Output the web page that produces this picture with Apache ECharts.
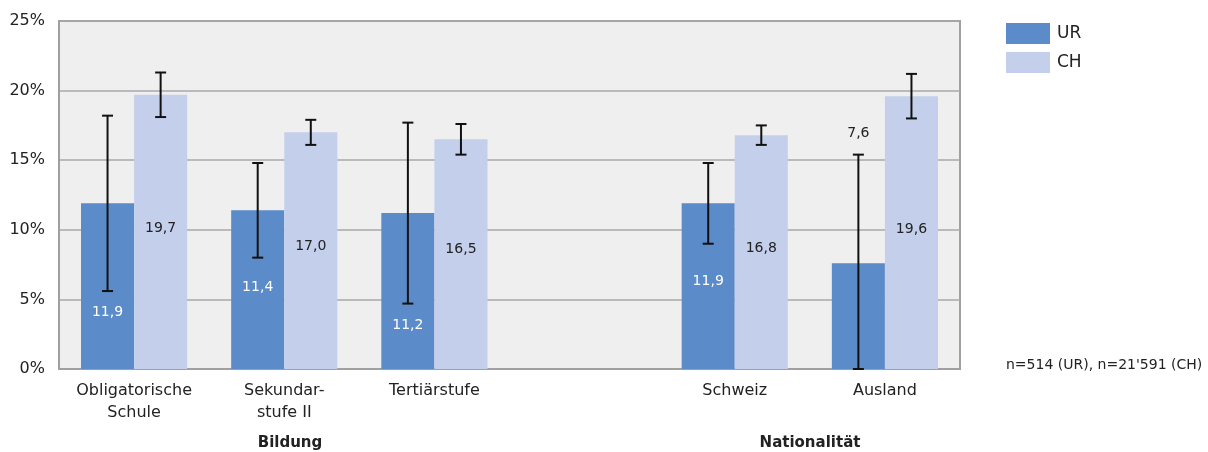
<!DOCTYPE html>
<html>
<head>
<meta charset="utf-8">
<script src="https://cdn.jsdelivr.net/npm/echarts@6/dist/echarts.min.js"></script>
<style>
html,body{margin:0;padding:0;background:#fff;}
#chart{width:1208px;height:452px;}
</style>
</head>
<body>
<div id="chart"></div>
<script>
// ---- data ----
const categories = ['Obligatorische\nSchule', 'Sekundar-\nstufe II', 'Tertiärstufe', '', 'Schweiz', 'Ausland'];
const urValues = [11.9, 11.4, 11.2, null, 11.9, 7.6];
const chValues = [19.7, 17.0, 16.5, null, 16.8, 19.6];
const urLow  = [5.6, 8.0, 4.7, null, 9.0, 0.0];
const urHigh = [18.2, 14.8, 17.7, null, 14.8, 15.4];
const chLow  = [18.1, 16.1, 15.4, null, 16.1, 18.0];
const chHigh = [21.3, 17.9, 17.6, null, 17.5, 21.2];
const yTicks = [0, 5, 10, 15, 20, 25];
const groupLabels = ['Bildung', 'Nationalität'];
const noteText = "n=514 (UR), n=21'591 (CH)";

// ---- layout (label anchor heights in axis units) ----
const urLabelAt = [4.1, 5.9, 3.1, null, 6.3, 16.9];
const chLabelAt = [10.1, 8.8, 8.6, null, 8.7, 10.0];

const FONT = 'DejaVu Sans';
const UR_COLOR = '#5b8bc8';
const CH_COLOR = '#c4cfec';
const GAP = 0.293;
const fmt = v => v.toFixed(1).replace('.', ',');

function sideOffset(band, side) {
  return side * band * (1 - GAP) / 4;
}

function errData(lo, hi, side) {
  const out = [];
  lo.forEach((l, i) => { if (l !== null) out.push([i, l, hi[i], side]); });
  return out;
}
function labelData(at, vals, side) {
  const out = [];
  at.forEach((a, i) => { if (a !== null) out.push([i, a, vals[i], side]); });
  return out;
}

function renderErr(params, api) {
  const i = api.value(0);
  const side = api.value(3);
  const band = api.size([1, 0])[0];
  const off = sideOffset(band, side);
  const lo = api.coord([i, api.value(1)]);
  const hi = api.coord([i, api.value(2)]);
  const x = lo[0] + off;
  const cap = 5.5;
  const st = { stroke: '#111', lineWidth: 2 };
  return {
    type: 'group',
    children: [
      { type: 'line', shape: { x1: x, y1: lo[1], x2: x, y2: hi[1] }, style: st },
      { type: 'line', shape: { x1: x - cap, y1: lo[1], x2: x + cap, y2: lo[1] }, style: st },
      { type: 'line', shape: { x1: x - cap, y1: hi[1], x2: x + cap, y2: hi[1] }, style: st }
    ]
  };
}

function renderLabel(params, api) {
  const i = api.value(0);
  const side = api.value(3);
  const val = api.value(2);
  const band = api.size([1, 0])[0];
  const off = sideOffset(band, side);
  const p = api.coord([i, api.value(1)]);
  const inside = api.value(1) < val;
  const color = (side < 0 && inside) ? '#ffffff' : '#222222';
  return {
    type: 'text',
    style: {
      x: p[0] + off, y: p[1],
      text: fmt(val),
      fill: color,
      font: '14px "' + FONT + '"',
      align: 'center', verticalAlign: 'middle'
    }
  };
}

const chart = echarts.init(document.getElementById('chart'), null, { renderer: 'canvas' });
chart.setOption({
  animation: false,
  backgroundColor: '#ffffff',
  textStyle: { fontFamily: FONT },
  grid: {
    left: 59, right: 248, top: 21, bottom: 83,
    show: true, backgroundColor: '#efefef',
    borderColor: '#a0a0a0', borderWidth: 2,
    containLabel: false
  },
  legend: {
    orient: 'vertical',
    left: 1006, top: 23, padding: 0,
    itemWidth: 44, itemHeight: 21, itemGap: 8,
    textStyle: { fontSize: 17, color: '#222', fontFamily: FONT, padding: [0, 0, 0, 2] },
    data: [{ name: 'UR', icon: 'rect' }, { name: 'CH', icon: 'rect' }]
  },
  xAxis: {
    type: 'category',
    data: categories,
    axisLine: { show: true, lineStyle: { color: '#a0a0a0', width: 2 } },
    axisTick: { show: false },
    axisLabel: { color: '#222', fontSize: 16, lineHeight: 22, margin: 11, interval: 0, fontFamily: FONT },
    splitLine: { show: false }
  },
  yAxis: {
    type: 'value',
    min: yTicks[0], max: yTicks[yTicks.length - 1], interval: 5,
    axisLine: { show: true, lineStyle: { color: '#a0a0a0', width: 2 } },
    axisTick: { show: false },
    axisLabel: { formatter: '{value}%', color: '#222', fontSize: 16, margin: 14, fontFamily: FONT },
    splitLine: { show: true, lineStyle: { color: '#a8a8a8', width: 1.5 } }
  },
  series: [
    { name: 'UR', type: 'bar', data: urValues, barGap: '0%', barCategoryGap: (GAP * 100) + '%',
      itemStyle: { color: UR_COLOR } },
    { name: 'CH', type: 'bar', data: chValues, barGap: '0%', barCategoryGap: (GAP * 100) + '%',
      itemStyle: { color: CH_COLOR } },
    { type: 'custom', renderItem: renderErr, data: errData(urLow, urHigh, -1), z: 5, silent: true },
    { type: 'custom', renderItem: renderErr, data: errData(chLow, chHigh, 1), z: 5, silent: true },
    { type: 'custom', renderItem: renderLabel, data: labelData(urLabelAt, urValues, -1), z: 6, silent: true },
    { type: 'custom', renderItem: renderLabel, data: labelData(chLabelAt, chValues, 1), z: 6, silent: true }
  ],
  graphic: [
    { type: 'text', left: 1006, top: 358, style: { text: noteText, font: '14px "' + FONT + '"', fill: '#222' } },
    { type: 'text', x: 290, y: 443, style: { text: groupLabels[0], font: 'bold 15px "' + FONT + '"', fill: '#222', align: 'center', verticalAlign: 'middle' } },
    { type: 'text', x: 810, y: 443, style: { text: groupLabels[1], font: 'bold 15px "' + FONT + '"', fill: '#222', align: 'center', verticalAlign: 'middle' } }
  ]
});
</script>
</body>
</html>
